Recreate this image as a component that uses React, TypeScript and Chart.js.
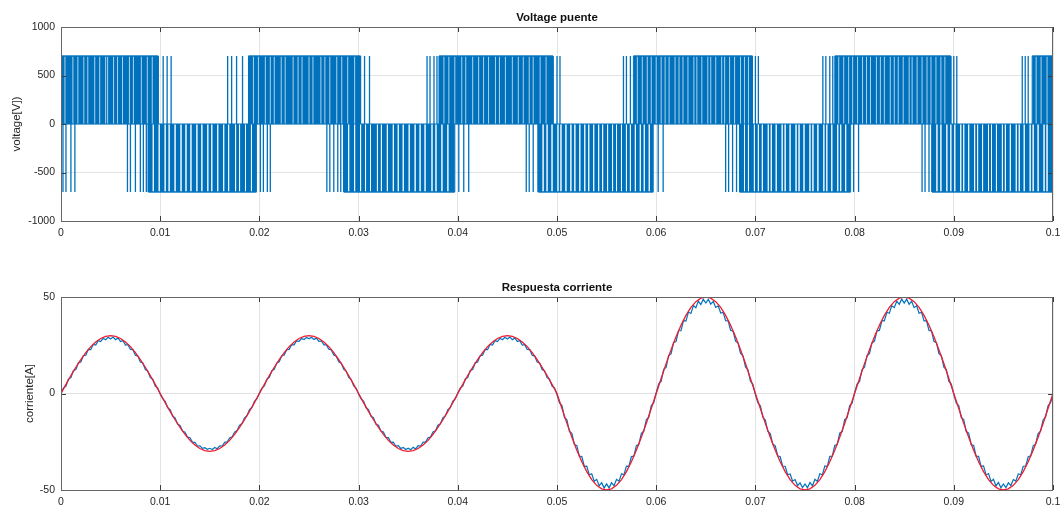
import React, { useEffect, useRef } from 'react';
import { Chart, registerables } from 'chart.js';

Chart.register(...registerables);

// ---------- axes ----------
const xTickValues = [0, 10, 20, 30, 40, 50, 60, 70, 80, 90, 100]; // time in ms
const xTickLabels = ['0', '0.01', '0.02', '0.03', '0.04', '0.05', '0.06', '0.07', '0.08', '0.09', '0.1'];
const voltageTicks = [-1000, -500, 0, 500, 1000];
const currentTicks = [-50, 0, 50];

// ---------- bridge voltage (ms) ----------
const voltageLevels = [-700, 0, 700];
const posBands = [[0, 9.8], [18.9, 30.2], [38.1, 49.6], [57.7, 69.7], [78.0, 89.7], [97.9, 100]];
const negBands = [[8.8, 19.7], [28.5, 39.7], [48.1, 59.7], [68.4, 79.6], [87.8, 100]];
const posLines = [10.3, 10.7, 11.1, 16.8, 17.2, 17.7, 18.3, 30.6, 31.1, 36.9, 37.2, 37.6, 37.9, 50.0, 50.3,
  56.7, 57.0, 57.4, 70.0, 70.3, 76.8, 77.1, 77.5, 77.8, 90.0, 90.3, 96.9, 97.2, 97.5];
const negLines = [0.2, 0.5, 1.0, 1.4, 6.7, 7.0, 7.5, 8.0, 8.3, 8.6, 20.1, 20.4, 20.8, 21.1, 26.8, 27.1, 27.5,
  27.9, 28.2, 40.1, 40.6, 41.1, 46.9, 47.2, 47.6, 60.2, 60.7, 67.0, 67.3, 67.7, 68.1, 79.9, 80.4, 86.8, 87.1, 87.5];
const posGaps = [0.4, 1.2, 1.7, 2.3, 2.7, 3.4, 3.9, 4.5, 4.7, 5.3, 5.7, 6.2, 6.9, 7.3, 8.1, 8.7, 9.2,
  19.4, 19.9, 20.6, 21.1, 21.5, 22.2, 22.6, 23.4, 23.9, 24.3, 25.0, 25.4, 26.2, 26.6, 27.1, 27.8, 28.3, 28.9, 29.6,
  38.6, 39.1, 39.7, 40.4, 40.8, 41.5, 42.1, 42.6, 43.1, 43.8, 44.2, 44.8, 45.5, 46.1, 46.6, 47.2, 47.6, 48.3, 48.9,
  58.1, 58.6, 59.1, 59.5, 60.0, 60.5, 60.9, 61.3, 61.9, 62.3, 62.7, 63.2, 63.8, 64.1, 64.6, 65.2, 65.5, 66.0, 66.6,
  66.9, 67.4, 67.9, 68.5, 68.9, 69.3,
  78.4, 78.9, 79.4, 79.8, 80.3, 80.8, 81.2, 81.6, 82.2, 82.6, 83.0, 83.6, 84.0, 84.4, 84.9, 85.5, 85.8, 86.3, 86.8,
  87.3, 87.7, 88.2, 88.7, 89.1,
  98.3, 98.8, 99.4];
const negGaps = [9.3, 9.9, 10.5, 10.9, 11.5, 12.1, 12.6, 13.1, 13.7, 14.2, 14.8, 15.2, 15.8, 16.4, 16.9, 17.6, 18.0,
  18.6, 19.2,
  29.0, 29.6, 30.2, 30.7, 31.2, 31.9, 32.3, 32.9, 33.5, 34.0, 34.5, 35.1, 35.7, 36.2, 36.7, 37.4, 37.8, 38.4, 39.0,
  48.6, 49.0, 49.5, 50.1, 50.4, 50.9, 51.4, 51.8, 52.3, 52.8, 53.2, 53.7, 54.2, 54.6, 55.1, 55.6, 56.0, 56.5, 57.0,
  57.4, 57.9, 58.4, 58.8, 59.3,
  68.9, 69.3, 69.9, 70.3, 70.7, 71.3, 71.6, 72.1, 72.7, 73.0, 73.5, 74.1, 74.4, 74.9, 75.5, 75.8, 76.3, 76.9, 77.2,
  77.7, 78.3, 78.6, 79.1,
  88.3, 88.7, 89.3, 89.7, 90.1, 90.7, 91.0, 91.5, 92.1, 92.4, 92.9, 93.5, 93.8, 94.3, 94.9, 95.2, 95.7, 96.3, 96.6,
  97.1, 97.7, 98.0, 98.5, 99.1, 99.4];

// ---------- current response ----------
const currentStepMs = 0.25;
const currentMeasured = [
  0.0, 2.9, 3.8, 7.5, 8.2, 11.9, 12.4, 15.9, 16.3, 19.6, 19.8, 22.8, 22.7, 25.4, 25.1, 27.4, 26.9, 28.6, 27.9, 29.1,
  28.2, 29.2, 27.9, 28.8, 26.9, 27.4, 25.1, 25.3, 22.8, 22.7, 19.8, 19.4, 16.3, 15.8, 12.4, 11.7, 8.2, 7.4, 3.8, 2.9,
  -0.4, -2.7, -4.0, -7.3, -8.4, -11.7, -12.6, -15.8, -16.5, -19.4, -20.0, -22.6, -22.9, -25.2, -25.3, -27.2, -27.1, -28.4, -28.1, -28.9,
  -28.4, -29.0, -28.0, -28.6, -27.1, -27.2, -25.3, -25.1, -23.0, -22.5, -20.0, -19.2, -16.5, -15.6, -12.6, -11.5, -8.4, -7.2, -4.0, -2.7,
  0.3, 2.8, 3.9, 7.4, 8.3, 11.8, 12.5, 15.8, 16.4, 19.5, 19.9, 22.7, 22.8, 25.3, 25.2, 27.3, 27.0, 28.5, 28.0, 29.0,
  28.3, 29.1, 28.0, 28.7, 27.0, 27.3, 25.2, 25.2, 22.9, 22.6, 19.9, 19.3, 16.4, 15.7, 12.5, 11.6, 8.3, 7.3, 3.9, 2.8,
  -0.3, -2.8, -3.9, -7.4, -8.3, -11.8, -12.5, -15.9, -16.4, -19.5, -19.9, -22.7, -22.8, -25.3, -25.2, -27.3, -27.0, -28.5, -28.0, -29.0,
  -28.3, -29.1, -27.9, -28.7, -27.0, -27.3, -25.2, -25.2, -22.9, -22.6, -19.9, -19.3, -16.4, -15.7, -12.5, -11.6, -8.3, -7.3, -3.9, -2.8,
  0.2, 2.9, 3.8, 7.5, 8.2, 11.9, 12.4, 15.9, 16.3, 19.6, 19.8, 22.8, 22.7, 25.4, 25.1, 27.4, 26.9, 28.6, 27.9, 29.1,
  28.2, 29.2, 27.9, 28.8, 26.9, 27.4, 25.1, 25.3, 22.8, 22.7, 19.8, 19.4, 16.3, 15.8, 12.4, 11.7, 8.2, 7.4, 3.8, 2.9,
  -0.5, -4.9, -6.3, -12.4, -13.6, -19.6, -20.6, -26.3, -27.0, -32.4, -32.7, -37.7, -37.6, -42.1, -41.6, -45.5, -44.5, -47.8, -46.2, -48.9,
  -46.8, -48.9, -46.2, -47.8, -44.5, -45.5, -41.6, -42.1, -37.6, -37.7, -32.7, -32.4, -27.0, -26.3, -20.6, -19.6, -13.6, -12.4, -6.3, -4.9,
  0.4, 5.0, 6.2, 12.5, 13.5, 19.7, 20.5, 26.4, 26.9, 32.5, 32.6, 37.8, 37.5, 42.2, 41.5, 45.6, 44.4, 47.9, 46.1, 48.8,
  46.9, 48.8, 46.3, 47.7, 44.6, 45.4, 41.7, 42.0, 37.7, 37.6, 32.8, 32.3, 27.1, 26.2, 20.7, 19.5, 13.7, 12.3, 6.4, 4.8,
  -0.6, -4.8, -6.4, -12.3, -13.7, -19.5, -20.7, -26.2, -27.1, -32.3, -32.8, -37.6, -37.7, -42.0, -41.7, -45.4, -44.6, -47.7, -46.3, -48.8,
  -46.9, -48.8, -46.1, -47.9, -44.4, -45.6, -41.5, -42.2, -37.5, -37.8, -32.6, -32.5, -26.9, -26.4, -20.5, -19.7, -13.5, -12.5, -6.2, -5.0,
  0.5, 4.9, 6.3, 12.4, 13.6, 19.6, 20.6, 26.3, 27.0, 32.4, 32.7, 37.7, 37.6, 42.1, 41.6, 45.5, 44.5, 47.8, 46.2, 48.9,
  46.8, 48.9, 46.2, 47.8, 44.5, 45.5, 41.6, 42.1, 37.6, 37.7, 32.7, 32.4, 27.0, 26.3, 20.6, 19.6, 13.6, 12.4, 6.3, 4.9,
  -0.4, -5.0, -6.2, -12.5, -13.5, -19.7, -20.5, -26.4, -26.9, -32.5, -32.6, -37.8, -37.5, -42.2, -41.5, -45.6, -44.4, -47.9, -46.1, -48.8,
  -46.9, -48.8, -46.3, -47.7, -44.6, -45.4, -41.7, -42.0, -37.7, -37.6, -32.8, -32.3, -27.1, -26.2, -20.7, -19.5, -13.7, -12.3, -6.4, -4.8,
  -0.8];
const referenceStepMs = 0.5;
const currentReference = [
  0, 4.7, 9.3, 13.6, 17.6, 21.2, 24.3, 26.7, 28.5, 29.6, 30, 29.6, 28.5, 26.7, 24.3, 21.2, 17.6, 13.6, 9.3, 4.7,
  0, -4.7, -9.3, -13.6, -17.6, -21.2, -24.3, -26.7, -28.5, -29.6, -30, -29.6, -28.5, -26.7, -24.3, -21.2, -17.6, -13.6, -9.3, -4.7,
  0, 4.7, 9.3, 13.6, 17.6, 21.2, 24.3, 26.7, 28.5, 29.6, 30, 29.6, 28.5, 26.7, 24.3, 21.2, 17.6, 13.6, 9.3, 4.7,
  0, -4.7, -9.3, -13.6, -17.6, -21.2, -24.3, -26.7, -28.5, -29.6, -30, -29.6, -28.5, -26.7, -24.3, -21.2, -17.6, -13.6, -9.3, -4.7,
  0, 4.7, 9.3, 13.6, 17.6, 21.2, 24.3, 26.7, 28.5, 29.6, 30, 29.6, 28.5, 26.7, 24.3, 21.2, 17.6, 13.6, 9.3, 4.7,
  0, -7.8, -15.5, -22.7, -29.4, -35.4, -40.5, -44.6, -47.6, -49.4, -50, -49.4, -47.6, -44.6, -40.5, -35.4, -29.4, -22.7, -15.5, -7.8,
  0, 7.8, 15.5, 22.7, 29.4, 35.4, 40.5, 44.6, 47.6, 49.4, 50, 49.4, 47.6, 44.6, 40.5, 35.4, 29.4, 22.7, 15.5, 7.8,
  0, -7.8, -15.5, -22.7, -29.4, -35.4, -40.5, -44.6, -47.6, -49.4, -50, -49.4, -47.6, -44.6, -40.5, -35.4, -29.4, -22.7, -15.5, -7.8,
  0, 7.8, 15.5, 22.7, 29.4, 35.4, 40.5, 44.6, 47.6, 49.4, 50, 49.4, 47.6, 44.6, 40.5, 35.4, 29.4, 22.7, 15.5, 7.8,
  0, -7.8, -15.5, -22.7, -29.4, -35.4, -40.5, -44.6, -47.6, -49.4, -50, -49.4, -47.6, -44.6, -40.5, -35.4, -29.4, -22.7, -15.5, -7.8,
  0];

// ---------- styling ----------
const BLUE = '#0072BD';
const RED = '#ee1c2e';
const GRID = 'rgba(38,38,38,0.13)';
const TEXT = '#262626';
const FONT = '"Liberation Sans", Arial, Helvetica, sans-serif';

function framePlugin(title: string, ylabel: string, ylabelX: number) {
  return {
    id: 'frame',
    afterDraw(chart: any) {
      const { ctx, chartArea: a, scales } = chart;
      const L = Math.round(a.left), T = Math.round(a.top), R = Math.round(a.right), B = Math.round(a.bottom);
      ctx.save();
      ctx.strokeStyle = '#3c3c3c';
      ctx.lineWidth = 1;
      ctx.beginPath();
      scales.x.ticks.forEach((t: any) => {
        const px = Math.round(scales.x.getPixelForValue(t.value)) + 0.5;
        ctx.moveTo(px, B); ctx.lineTo(px, B - 5);
        ctx.moveTo(px, T); ctx.lineTo(px, T + 5);
      });
      scales.y.ticks.forEach((t: any) => {
        const py = Math.round(scales.y.getPixelForValue(t.value)) + 0.5;
        ctx.moveTo(L, py); ctx.lineTo(L + 5, py);
        ctx.moveTo(R, py); ctx.lineTo(R - 5, py);
      });
      ctx.stroke();
      ctx.strokeStyle = '#666';
      ctx.strokeRect(L + 0.5, T + 0.5, R - L - 1, B - T);
      ctx.fillStyle = '#111';
      ctx.font = `bold 11.5px ${FONT}`;
      ctx.textAlign = 'center';
      ctx.textBaseline = 'middle';
      ctx.fillText(title, (a.left + a.right) / 2, a.top - 9.5);
      ctx.fillStyle = TEXT;
      ctx.font = `11.5px ${FONT}`;
      ctx.translate(ylabelX, (a.top + a.bottom) / 2);
      ctx.rotate(-Math.PI / 2);
      ctx.fillText(ylabel, 0, 0);
      ctx.restore();
    },
  };
}

function makeOptions(yTicks: number[], padTop: number, xAxisH: number) {
  return {
    responsive: false,
    animation: false,
    events: [],
    layout: { padding: { top: padTop, right: 10, bottom: 0, left: 0 } },
    plugins: { legend: { display: false }, tooltip: { enabled: false }, title: { display: false } },
    scales: {
      x: {
        type: 'linear',
        min: xTickValues[0],
        max: xTickValues[xTickValues.length - 1],
        afterBuildTicks: (s: any) => { s.ticks = xTickValues.map((v) => ({ value: v })); },
        afterFit: (s: any) => { s.height = xAxisH; s.paddingRight = 0; s.paddingLeft = 0; },
        ticks: {
          callback: (v: number) => xTickLabels[xTickValues.indexOf(v)],
          padding: 6, maxRotation: 0, autoSkip: false, color: TEXT, font: { size: 10.5, family: FONT },
        },
        grid: { color: GRID, drawTicks: false },
        border: { display: false },
      },
      y: {
        type: 'linear',
        min: yTicks[0],
        max: yTicks[yTicks.length - 1],
        afterBuildTicks: (s: any) => { s.ticks = yTicks.map((v) => ({ value: v })); },
        afterFit: (s: any) => { s.width = 61; s.paddingTop = 0; s.paddingBottom = 0; },
        ticks: { callback: (v: number) => String(v), padding: 6, color: TEXT, font: { size: 10.5, family: FONT } },
        grid: { color: GRID, drawTicks: false },
        border: { display: false },
      },
    },
  };
}

const lineBase = { pointRadius: 0, tension: 0, spanGaps: false, fill: false };

function voltageDatasets() {
  const [low, zero, high] = voltageLevels;
  const ds: any[] = [];
  posBands.forEach(([a, b]) => ds.push({
    ...lineBase, order: 5, fill: 'origin', backgroundColor: BLUE, borderColor: BLUE, borderWidth: 1,
    data: [{ x: a, y: zero }, { x: a, y: high }, { x: b, y: high }, { x: b, y: zero }],
  }));
  negBands.forEach(([a, b]) => ds.push({
    ...lineBase, order: 5, fill: 'origin', backgroundColor: BLUE, borderColor: BLUE, borderWidth: 1,
    data: [{ x: a, y: zero }, { x: a, y: low }, { x: b, y: low }, { x: b, y: zero }],
  }));
  const vl = (times: number[], lvl: number) => times.flatMap((t) => [{ x: t, y: zero }, { x: t, y: lvl }, { x: t, y: null }]);
  ds.push({ ...lineBase, order: 4, borderColor: 'rgba(255,255,255,0.68)', borderWidth: 1,
    data: [...vl(posGaps, high), ...vl(negGaps, low)] });
  const edges = [
    ...posBands.flatMap(([a, b]) => [{ x: a, y: high }, { x: b, y: high }, { x: b, y: null }]),
    ...negBands.flatMap(([a, b]) => [{ x: a, y: low }, { x: b, y: low }, { x: b, y: null }]),
    { x: xTickValues[0], y: zero }, { x: xTickValues[xTickValues.length - 1], y: zero },
  ];
  ds.push({ ...lineBase, order: 3, borderColor: BLUE, borderWidth: 1.2, data: edges });
  ds.push({ ...lineBase, order: 2, borderColor: BLUE, borderWidth: 1.3,
    data: [...vl(posLines, high), ...vl(negLines, low)] });
  return ds;
}

function currentDatasets() {
  return [
    { ...lineBase, order: 1, borderColor: BLUE, borderWidth: 1.2,
      data: currentMeasured.map((y, i) => ({ x: i * currentStepMs, y })) },
    { ...lineBase, order: 0, borderColor: RED, borderWidth: 1.3,
      data: currentReference.map((y, i) => ({ x: i * referenceStepMs, y })) },
  ];
}

export default function App() {
  const topRef = useRef<HTMLCanvasElement>(null);
  const botRef = useRef<HTMLCanvasElement>(null);

  useEffect(() => {
    Chart.defaults.font.family = FONT;
    Chart.defaults.color = TEXT;
    const c1 = new Chart(topRef.current!, {
      type: 'line',
      data: { datasets: voltageDatasets() },
      options: makeOptions(voltageTicks, 27, 24) as any,
      plugins: [framePlugin('Voltage puente', 'voltage[V])', 17)],
    });
    const c2 = new Chart(botRef.current!, {
      type: 'line',
      data: { datasets: currentDatasets() },
      options: makeOptions(currentTicks, 52, 20) as any,
      plugins: [framePlugin('Respuesta corriente', 'corriente[A]', 30)],
    });
    return () => { c1.destroy(); c2.destroy(); };
  }, []);

  return (
    <div style={{ position: 'absolute', left: 0, top: 0, width: 1063, height: 510, background: '#fff', overflow: 'hidden' }}>
      <canvas ref={topRef} width={1063} height={245} style={{ position: 'absolute', left: 0, top: 0, width: 1063, height: 245 }} />
      <canvas ref={botRef} width={1063} height={265} style={{ position: 'absolute', left: 0, top: 245, width: 1063, height: 265 }} />
    </div>
  );
}
